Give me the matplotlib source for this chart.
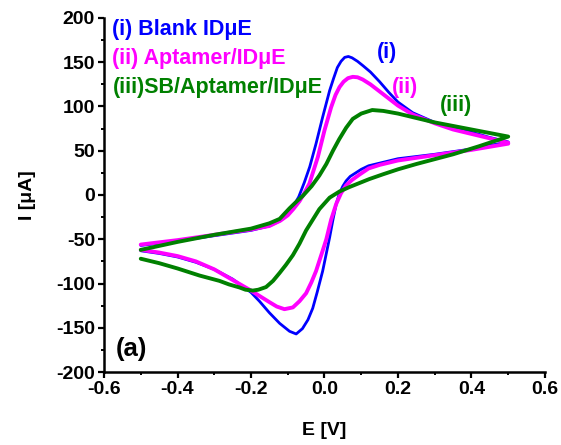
import matplotlib
matplotlib.use('Agg')
import matplotlib.pyplot as plt
from matplotlib.ticker import MultipleLocator

plt.rcParams['font.family'] = ['Liberation Sans', 'DejaVu Sans']
plt.rcParams['font.weight'] = 'bold'
plt.rcParams['axes.unicode_minus'] = False

# (i) Blank IDμE  -- anodic sweep then cathodic sweep
blank_E_fwd = [-0.5, -0.4, -0.3, -0.2, -0.15, -0.12, -0.1, -0.085, -0.07, -0.055, -0.04, -0.023, -0.005,
               0.014, 0.025, 0.035, 0.045, 0.055, 0.065, 0.075, 0.09, 0.105, 0.125, 0.15, 0.175, 0.2, 0.24,
               0.3, 0.35, 0.4, 0.45, 0.5]
blank_I_fwd = [-57, -52, -46, -40, -35, -29, -22, -13, -2, 14, 32, 58, 88,
               118, 132, 144, 151, 155.5, 156.5, 155, 151, 146, 139, 128, 116, 105, 93,
               82, 76, 71, 65, 60]
blank_E_rev = [0.5, 0.4, 0.3, 0.2, 0.15, 0.12, 0.1, 0.085, 0.07, 0.059, 0.05, 0.04, 0.032, 0.023, 0.014,
               -0.005, -0.02, -0.032, -0.045, -0.06, -0.077, -0.095, -0.122, -0.15, -0.177, -0.2, -0.25,
               -0.3, -0.35, -0.4, -0.45, -0.5]
blank_I_rev = [60, 52, 46, 41, 36, 33, 29, 25, 21, 16, 10, 1, -10, -28, -48,
               -86, -110, -128, -141, -151, -157, -154, -145, -133, -120, -110, -95,
               -84, -76, -70, -66, -63]

# (ii) Aptamer/IDμE
apt_E_fwd = [-0.5, -0.4, -0.3, -0.2, -0.15, -0.12, -0.1, -0.085, -0.068, -0.055, -0.041, -0.018, 0.0,
             0.018, 0.03, 0.041, 0.052, 0.064, 0.077, 0.09, 0.104, 0.125, 0.15, 0.175, 0.2, 0.24, 0.3, 0.35,
             0.4, 0.45, 0.5]
apt_I_fwd = [-56, -51, -45, -39, -35, -29, -23, -16, -7, 2, 13, 43, 73,
             99, 113, 122, 128, 132, 133.5, 133, 130.5, 125, 117, 109, 101, 91, 81, 74,
             69, 64, 59]
apt_E_rev = [0.5, 0.4, 0.3, 0.2, 0.15, 0.12, 0.095, 0.075, 0.059, 0.045, 0.032, 0.018, 0.005, -0.005,
             -0.023, -0.036, -0.05, -0.068, -0.086, -0.109, -0.13, -0.15, -0.177, -0.2, -0.25,
             -0.3, -0.35, -0.4, -0.45, -0.5]
apt_I_rev = [58, 51, 45, 39, 34, 30, 23, 17, 11, 2, -10, -28, -50, -63,
             -86, -99, -111, -120, -127, -129, -126, -121, -114, -108, -96,
             -84, -75, -69, -65, -62]

# (iii) SB/Aptamer/IDμE
sb_E_fwd = [-0.5, -0.4, -0.3, -0.2, -0.15, -0.122, -0.095, -0.075, -0.059, -0.035, -0.014, 0.005,
            0.023, 0.04, 0.059, 0.077, 0.1, 0.13, 0.16, 0.2, 0.24, 0.3, 0.35, 0.4, 0.45, 0.5]
sb_I_fwd = [-62, -53, -45, -38, -32, -27, -15, -7, -1, 10, 22, 35,
            50, 63, 76, 86, 92, 96, 95, 92, 88, 82, 78, 74, 70, 66]
sb_E_rev = [0.5, 0.42, 0.35, 0.3, 0.25, 0.2, 0.16, 0.122, 0.095, 0.068, 0.041, 0.014, -0.014,
            -0.05, -0.068, -0.086, -0.105, -0.122, -0.14, -0.159, -0.18, -0.195, -0.215, -0.231,
            -0.26, -0.286, -0.34, -0.4, -0.45, -0.5]
sb_I_rev = [66, 55, 46, 40.5, 35, 29, 23.5, 18, 13.5, 9, 4, -3, -16,
            -40, -55, -68, -79, -88, -97, -104, -107, -108, -107, -104.5,
            -101, -97, -91, -83, -77, -72]

fig = plt.figure(figsize=(5.61, 4.45), dpi=100)
ax = fig.add_axes([0.1854, 0.164, 0.786, 0.7956])

line_kw = dict(solid_joinstyle='round', solid_capstyle='round')
ax.plot(blank_E_fwd + blank_E_rev, blank_I_fwd + blank_I_rev, color='#0000FF', linewidth=2.0, **line_kw)
ax.plot(apt_E_fwd + apt_E_rev, apt_I_fwd + apt_I_rev, color='#FF00FF', linewidth=2.8, **line_kw)
ax.plot(sb_E_fwd + sb_E_rev, sb_I_fwd + sb_I_rev, color='#008000', linewidth=2.8, **line_kw)

ax.set_xlim(-0.6, 0.6)
ax.set_ylim(-200, 200)
ax.xaxis.set_major_locator(MultipleLocator(0.2))
ax.xaxis.set_minor_locator(MultipleLocator(0.1))
ax.yaxis.set_major_locator(MultipleLocator(50))
ax.yaxis.set_minor_locator(MultipleLocator(25))
ax.xaxis.set_major_formatter(lambda v, p: f'{v:.1f}')

for side in ['top', 'right']:
    ax.spines[side].set_visible(False)
for side in ['left', 'bottom']:
    ax.spines[side].set_linewidth(1.8)
ax.tick_params(which='major', direction='out', length=4.5, width=1.6, labelsize=14, pad=2)
ax.tick_params(which='minor', direction='out', length=2.5, width=1.4)

ax.set_xlabel('E [V]', fontsize=14, fontweight='bold')
ax.set_ylabel('I [μA]', fontsize=14, fontweight='bold')
ax.xaxis.set_label_coords(0.5, -0.14)
ax.yaxis.set_label_coords(-0.155, 0.5)

# legend written as coloured text
ax.text(-0.577, 187, '(i) Blank IDμE', color='#0000FF', fontsize=15.5, fontweight='bold', va='center')
ax.text(-0.577, 154.5, '(ii) Aptamer/IDμE', color='#FF00FF', fontsize=15.5, fontweight='bold', va='center')
ax.text(-0.577, 122, '(iii)SB/Aptamer/IDμE', color='#008000', fontsize=15.5, fontweight='bold', va='center')

# curve tags
ax.text(0.170, 161, '(i)', color='#0000FF', fontsize=15.5, fontweight='bold', ha='center', va='center')
ax.text(0.218, 122, '(ii)', color='#FF00FF', fontsize=15.5, fontweight='bold', ha='center', va='center')
ax.text(0.359, 101, '(iii)', color='#008000', fontsize=15.5, fontweight='bold', ha='center', va='center')

ax.text(-0.525, -174, '(a)', color='black', fontsize=18.5, fontweight='bold', ha='center', va='center')

fig.savefig('out.png', dpi=100)
